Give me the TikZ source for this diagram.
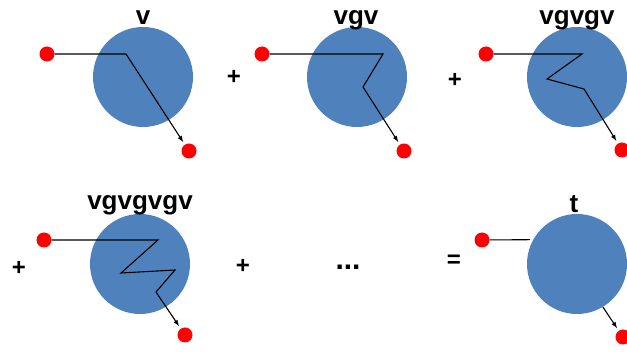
\documentclass[tikz,border=0pt]{standalone}
\usepackage{fontspec}
\setmainfont{Liberation Sans}
\definecolor{blobblue}{RGB}{79,129,189}
\begin{document}
\begin{tikzpicture}[
		x=1pt, y=-1pt,
		>=latex,
		blob/.style={circle, fill=blobblue, minimum size=100pt, inner sep=0pt},
		port/.style={circle, fill=red, minimum size=15pt, inner sep=0pt},
		term/.style={font=\fontsize{26}{30}\selectfont\bfseries, anchor=base, inner sep=0pt},
		op/.style={font=\fontsize{24}{28}\selectfont\bfseries, inner sep=0pt},
		wire/.style={draw, line width=1.1pt, shorten >=3pt}
	]
		\useasboundingbox (0,0) rectangle (627,352);
		% blobs, ports and labels of the series
		\foreach \n/\x/\y in {1/143/77, 2/357/77, 3/577/77, 4/140/264, 6/577/264} {
			\node[blob] (B\n) at (\x,\y) {};
		}
		\foreach \n/\x/\y in {1/47/54, 2/262/54, 3/486/54, 4/44/240, 6/482/240} {
			\node[port] (I\n) at (\x,\y) {};
		}
		\foreach \n/\x/\y in {1/189/151, 2/404/151, 3/622/150, 4/185/335, 6/623/337} {
			\node[port] (O\n) at (\x,\y) {};
		}
		\node[term] (T1) at (143,25) {v};
		\node[term] (T2) at (356,25) {vgv};
		\node[term] (T3) at (577,25) {vgvgv};
		\node[term] (T4) at (140,210) {vgvgvgv};
		\node[term] (T6) at (574,213) {t};
		% operators
		\node[op] (plus1) at (234,77) {+};
		\node[op] (plus2) at (455,80) {+};
		\node[op] (plus3) at (19,268) {+};
		\node[op] (plus4) at (243,266) {+};
		\node[op, font=\fontsize{30}{34}\selectfont\bfseries] (dots) at (348,267) {...};
		\node[op] (eq) at (454,261) {=};
		% scattering paths
		\coordinate (P1a) at (126,54);
		\draw[wire,->] (I1) -- (P1a) -- (O1);
		\coordinate (P2a) at (383,54);
		\coordinate (P2b) at (363,87);
		\draw[wire,->] (I2) -- (P2a) -- (P2b) -- (O2);
		\coordinate (P3a) at (582,54);
		\coordinate (P3b) at (547,79);
		\coordinate (P3c) at (584,89);
		\draw[wire,->] (I3) -- (P3a) -- (P3b) -- (P3c) -- (O3);
		\coordinate (P4a) at (158,240);
		\coordinate (P4b) at (121,273);
		\coordinate (P4c) at (175,270);
		\coordinate (P4d) at (156,292);
		\draw[wire,->] (I4) -- (P4a) -- (P4b) -- (P4c) -- (P4d) -- (O4);
		\draw[wire] (I6) -- (B6.151);
		\draw[wire,->] (B6.-59) -- (O6);
	\end{tikzpicture}
\end{document}
